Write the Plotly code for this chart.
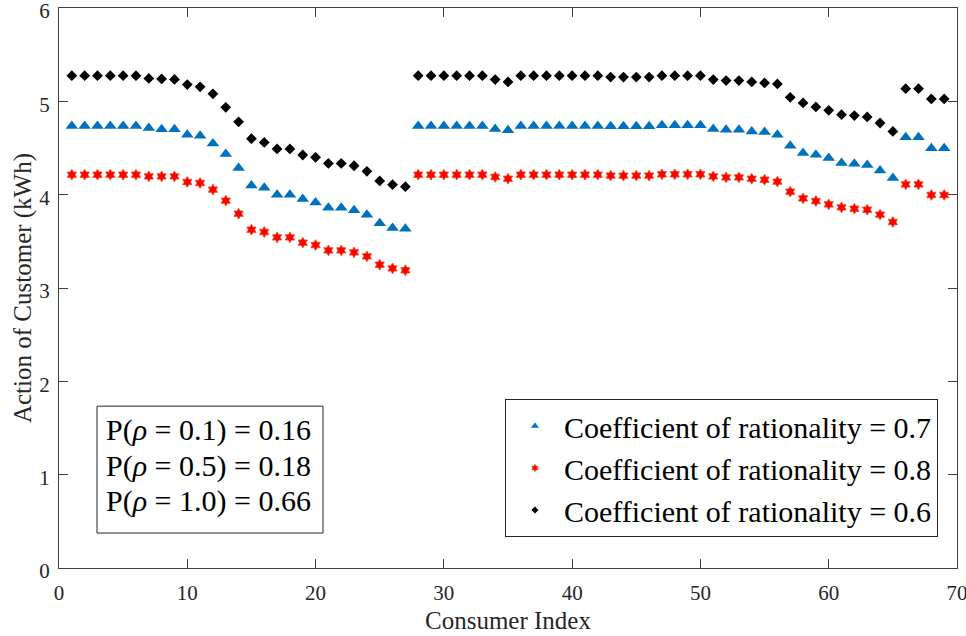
import plotly.graph_objects as go

consumer_index = list(range(1, 70))

# Coefficient of rationality = 0.7 (blue triangles)
rational_07 = [4.737, 4.737, 4.737, 4.737, 4.737, 4.737, 4.715, 4.70, 4.70, 4.643,
               4.63, 4.547, 4.436, 4.286, 4.097, 4.075, 4.00, 4.00, 3.954, 3.917,
               3.86, 3.86, 3.832, 3.786, 3.693, 3.643, 3.636, 4.737, 4.737, 4.737,
               4.737, 4.737, 4.737, 4.704, 4.69, 4.737, 4.737, 4.737, 4.737, 4.737,
               4.737, 4.737, 4.732, 4.732, 4.732, 4.732, 4.743, 4.743, 4.743, 4.743,
               4.704, 4.696, 4.696, 4.678, 4.672, 4.643, 4.525, 4.447, 4.429, 4.393,
               4.34, 4.332, 4.318, 4.26, 4.179, 4.614, 4.614, 4.496, 4.496]

# Coefficient of rationality = 0.8 (red stars)
rational_08 = [4.214, 4.214, 4.214, 4.214, 4.214, 4.214, 4.196, 4.196, 4.196, 4.136,
               4.125, 4.054, 3.936, 3.796, 3.625, 3.60, 3.542, 3.542, 3.486, 3.46,
               3.403, 3.403, 3.382, 3.339, 3.25, 3.21, 3.19, 4.214, 4.214, 4.214,
               4.214, 4.214, 4.214, 4.19, 4.171, 4.214, 4.214, 4.214, 4.214, 4.214,
               4.214, 4.214, 4.204, 4.204, 4.204, 4.204, 4.218, 4.218, 4.218, 4.218,
               4.196, 4.185, 4.185, 4.171, 4.16, 4.14, 4.032, 3.96, 3.932, 3.896,
               3.864, 3.85, 3.839, 3.786, 3.707, 4.11, 4.11, 3.997, 3.997]

# Coefficient of rationality = 0.6 (black diamonds)
rational_06 = [5.275, 5.275, 5.275, 5.275, 5.275, 5.275, 5.245, 5.24, 5.235, 5.18,
               5.155, 5.08, 4.936, 4.78, 4.60, 4.56, 4.49, 4.49, 4.425, 4.40,
               4.335, 4.335, 4.31, 4.25, 4.147, 4.107, 4.086, 5.275, 5.275, 5.275,
               5.275, 5.275, 5.275, 5.233, 5.208, 5.275, 5.275, 5.275, 5.275, 5.275,
               5.275, 5.275, 5.26, 5.26, 5.26, 5.26, 5.275, 5.275, 5.275, 5.275,
               5.233, 5.222, 5.222, 5.208, 5.197, 5.186, 5.043, 4.983, 4.94, 4.904,
               4.857, 4.847, 4.833, 4.768, 4.678, 5.136, 5.136, 5.026, 5.026]

series_names = ["Coefficient of rationality = 0.7",
                "Coefficient of rationality = 0.8",
                "Coefficient of rationality = 0.6"]

prob_lines = ["P(<i>ρ</i> = 0.1) = 0.16",
              "P(<i>ρ</i> = 0.5) = 0.18",
              "P(<i>ρ</i> = 1.0) = 0.66"]

x_ticks = [0, 10, 20, 30, 40, 50, 60, 70]
y_ticks = [0, 1, 2, 3, 4, 5, 6]

FONT = "Liberation Serif"
AX = "#404040"
TXT = "#262626"

styles = [
    dict(symbol="triangle-up", color="#0072BD", size=11, lc="#0072BD", lw=0, lsize=7),
    dict(symbol="hexagram", color="#FF0000", size=8.2, lc="#F0501A", lw=0.8, lsize=5.5),
    dict(symbol="diamond", color="#000000", size=8.3, lc="#000000", lw=0, lsize=5.5),
]
values = [rational_07, rational_08, rational_06]

fig = go.Figure()
for name, vals, st in zip(series_names, values, styles):
    fig.add_trace(go.Scatter(
        x=consumer_index, y=vals, mode="markers", name=name, showlegend=False,
        marker=dict(symbol=st["symbol"], color=st["color"], size=st["size"],
                    line=dict(color=st["lc"], width=st["lw"])),
    ))
for name, st in zip(series_names, styles):
    fig.add_trace(go.Scatter(
        x=[None], y=[None], mode="markers", name=name, showlegend=True,
        marker=dict(symbol=st["symbol"], color=st["color"], size=st["lsize"],
                    line=dict(color=st["lc"], width=st["lw"])),
    ))

# box around probability text
fig.add_shape(type="rect", xref="paper", yref="paper",
              x0=0.0423, x1=0.294, y0=0.0625, y1=0.289,
              line=dict(color="#262626", width=1), fillcolor="white", layer="above")
for yy, t in zip([0.247, 0.183, 0.120], prob_lines):
    fig.add_annotation(x=0.0501, y=yy, xref="paper", yref="paper", text=t,
                       showarrow=False, xanchor="left", yanchor="middle",
                       font=dict(family=FONT, size=30, color="#000000"))

fig.update_layout(
    width=966, height=636,
    margin=dict(l=59, r=9, t=8, b=68, autoexpand=False),
    paper_bgcolor="white", plot_bgcolor="white",
    font=dict(family=FONT, color=TXT),
    legend=dict(x=0.9788, y=0.0554, xanchor="right", yanchor="bottom",
                bordercolor="#262626", borderwidth=1, bgcolor="white",
                font=dict(family=FONT, size=30, color="#000000"),
                itemwidth=48, tracegroupgap=0),
)
fig.update_xaxes(range=[0, 70], tickvals=x_ticks, ticktext=[str(v) for v in x_ticks],
                 showgrid=False, zeroline=False, showline=True, linecolor=AX, linewidth=1,
                 mirror="ticks", ticks="inside", ticklen=9, tickcolor=AX, tickwidth=1,
                 tickfont=dict(family=FONT, size=21, color=TXT), ticklabelstandoff=6,
                 ticklabeloverflow="allow", automargin=False,
                 title=dict(text="Consumer Index", font=dict(family=FONT, size=25, color=TXT),
                            standoff=7))
fig.update_yaxes(range=[0, 6], tickvals=y_ticks, ticktext=[str(v) for v in y_ticks],
                 showgrid=False, zeroline=False, showline=True, linecolor=AX, linewidth=1,
                 mirror="ticks", ticks="inside", ticklen=9, tickcolor=AX, tickwidth=1,
                 tickfont=dict(family=FONT, size=21, color=TXT), ticklabelstandoff=4,
                 ticklabelshift=3,
                 ticklabeloverflow="allow", automargin=False,
                 title=dict(text="Action of Customer (kWh)", font=dict(family=FONT, size=25, color=TXT),
                            standoff=0))

fig.write_html("out.html")
